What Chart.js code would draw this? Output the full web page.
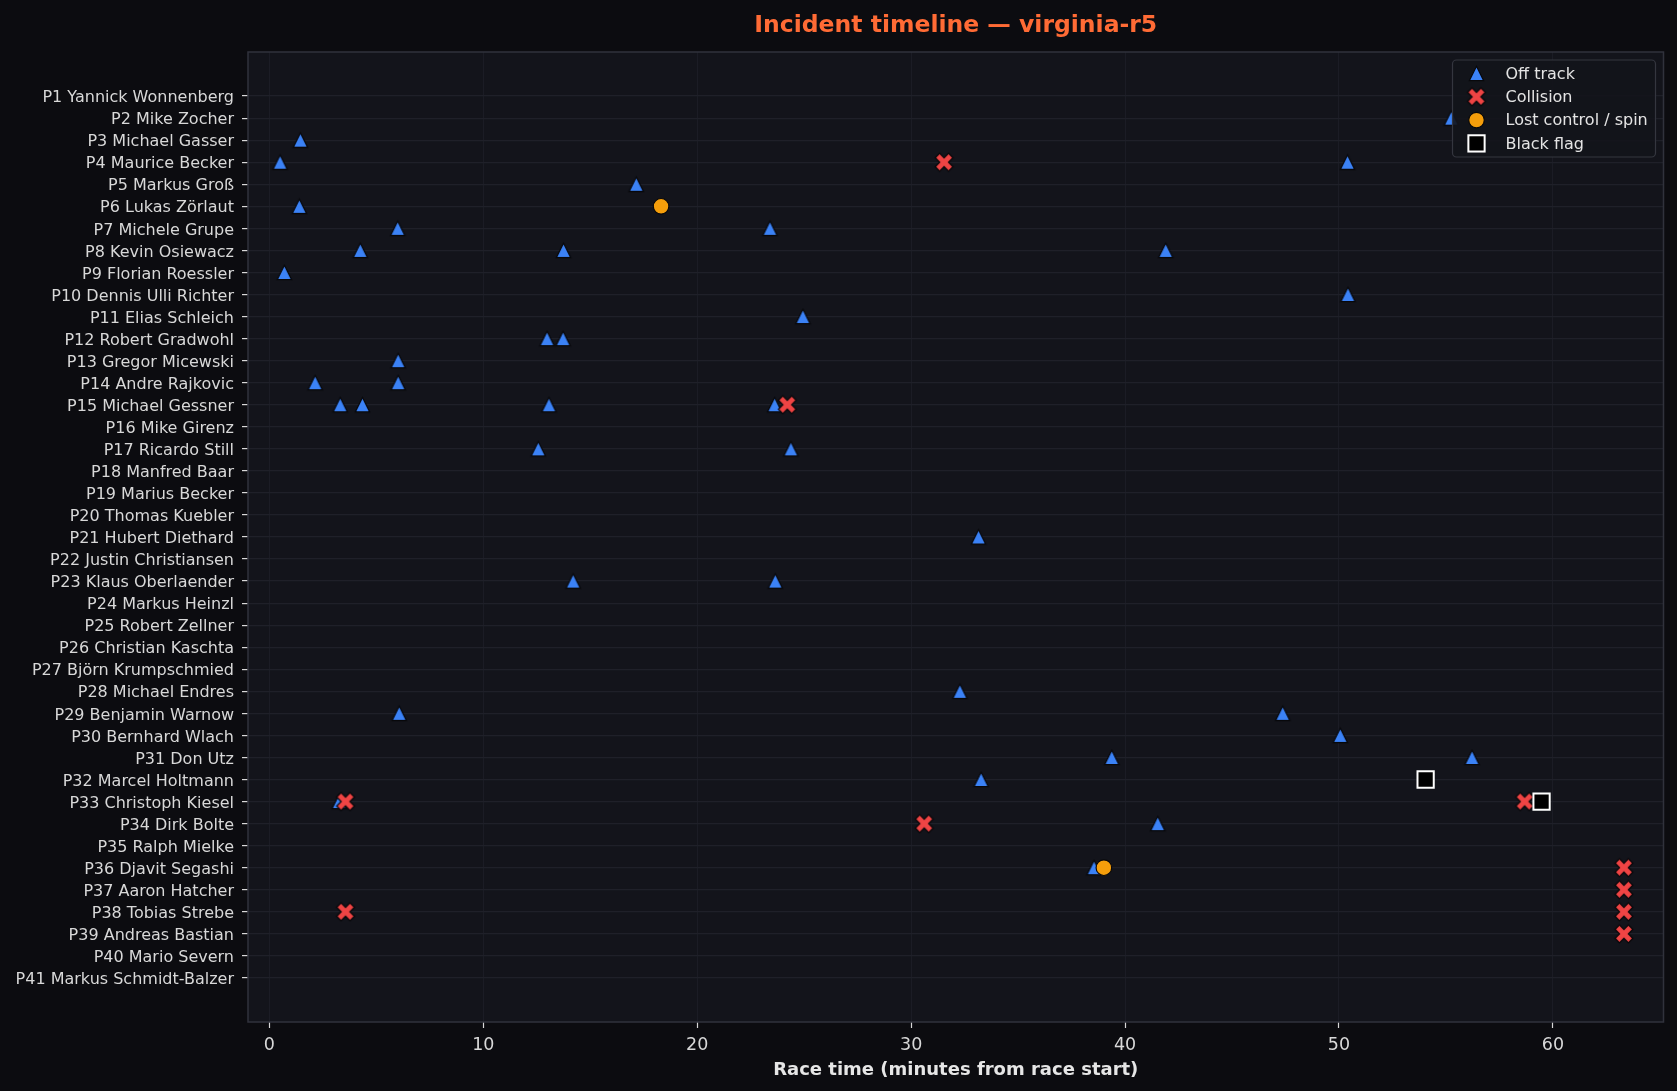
<!DOCTYPE html>
<html>
<head>
<meta charset="utf-8">
<title>Incident timeline</title>
<script src="https://cdn.jsdelivr.net/npm/chart.js@4.4.1/dist/chart.umd.min.js"></script>
<style>
  html, body { margin: 0; padding: 0; background: #0c0c10; }
  #wrap { width: 1677px; height: 1091px; }
</style>
</head>
<body>
<div id="wrap"><canvas id="incidentChart" width="1677" height="1091"></canvas></div>
<script>
// Drivers in finishing order (row labels)
const drivers = [
    'P1 Yannick Wonnenberg', 'P2 Mike Zocher', 'P3 Michael Gasser', 'P4 Maurice Becker',
    'P5 Markus Groß', 'P6 Lukas Zörlaut', 'P7 Michele Grupe', 'P8 Kevin Osiewacz',
    'P9 Florian Roessler', 'P10 Dennis Ulli Richter', 'P11 Elias Schleich', 'P12 Robert Gradwohl',
    'P13 Gregor Micewski', 'P14 Andre Rajkovic', 'P15 Michael Gessner', 'P16 Mike Girenz',
    'P17 Ricardo Still', 'P18 Manfred Baar', 'P19 Marius Becker', 'P20 Thomas Kuebler',
    'P21 Hubert Diethard', 'P22 Justin Christiansen', 'P23 Klaus Oberlaender', 'P24 Markus Heinzl',
    'P25 Robert Zellner', 'P26 Christian Kaschta', 'P27 Björn Krumpschmied', 'P28 Michael Endres',
    'P29 Benjamin Warnow', 'P30 Bernhard Wlach', 'P31 Don Utz', 'P32 Marcel Holtmann',
    'P33 Christoph Kiesel', 'P34 Dirk Bolte', 'P35 Ralph Mielke', 'P36 Djavit Segashi',
    'P37 Aaron Hatcher', 'P38 Tobias Strebe', 'P39 Andreas Bastian', 'P40 Mario Severn',
    'P41 Markus Schmidt-Balzer'
];

// Incidents as [position, minutes from race start]
const offTrack = [
    [2, 55.25], [3, 1.45], [4, 0.5], [4, 50.4], [5, 17.15], [6, 1.4],
    [7, 6.0], [7, 23.4], [8, 4.25], [8, 13.75], [8, 41.9], [9, 0.7],
    [10, 50.42], [11, 24.94], [12, 12.98], [12, 13.73], [13, 6.02],
    [14, 2.14], [14, 6.02], [15, 3.31], [15, 4.35], [15, 13.07], [15, 23.62],
    [17, 12.57], [17, 24.38], [21, 33.15], [23, 14.2], [23, 23.65],
    [28, 32.28], [29, 6.07], [29, 47.37], [30, 50.06], [31, 39.38], [31, 56.22],
    [32, 33.27], [33, 3.26], [34, 41.53], [36, 38.55]
];
const collision = [
    [4, 31.54], [15, 24.21], [33, 3.56], [33, 58.68], [34, 30.61],
    [36, 63.32], [37, 63.32], [38, 3.56], [38, 63.32], [39, 63.32]
];
const spin = [[6, 18.31], [36, 39.01]];
const blackFlag = [[32, 54.05], [33, 59.47]];

const xTicks = [0, 10, 20, 30, 40, 50, 60];

const FONT = "'DejaVu Sans', 'Liberation Sans', sans-serif";
const EDGE = '#08080b';

// matplotlib-like '^' and 'X' markers drawn once on small canvases
function makeTriangle(h, fill) {
    const c = document.createElement('canvas');
    const s = Math.ceil(2 * h + 4);
    c.width = c.height = s;
    const g = c.getContext('2d');
    const m = s / 2;
    g.beginPath();
    g.moveTo(m, m - h);
    g.lineTo(m + h, m + h);
    g.lineTo(m - h, m + h);
    g.closePath();
    g.fillStyle = fill;
    g.fill();
    g.lineWidth = 1.2;
    g.strokeStyle = EDGE;
    g.stroke();
    return c;
}

function makeCross(L, w, fill) {
    const c = document.createElement('canvas');
    const s = 24;
    c.width = c.height = s;
    const g = c.getContext('2d');
    const pts = [[-w, L], [w, L], [w, w], [L, w], [L, -w], [w, -w],
                 [w, -L], [-w, -L], [-w, -w], [-L, -w], [-L, w], [-w, w]];
    const k = Math.SQRT1_2;
    g.beginPath();
    pts.forEach(([u, v], i) => {
        const x = s / 2 + (u - v) * k;
        const y = s / 2 + (u + v) * k;
        if (i === 0) g.moveTo(x, y); else g.lineTo(x, y);
    });
    g.closePath();
    g.fillStyle = fill;
    g.fill();
    g.lineWidth = 1.2;
    g.strokeStyle = EDGE;
    g.stroke();
    return c;
}

const triImg = makeTriangle(7.2, '#3b82f6');
const crossImg = makeCross(9.4, 3.1, '#ef4444');

const toPoints = arr => arr.map(([pos, min]) => ({ x: min, y: pos }));

// plot background + four spines
const plotFrame = {
    id: 'plotFrame',
    beforeDraw(chart) {
        const { ctx, chartArea: a } = chart;
        ctx.save();
        ctx.fillStyle = '#0c0c10';
        ctx.fillRect(0, 0, chart.width, chart.height);
        ctx.fillStyle = '#13141b';
        ctx.fillRect(a.left, a.top, a.right - a.left, a.bottom - a.top);
        ctx.restore();
    },
    beforeDatasetsDraw(chart) {
        const { ctx, chartArea: a } = chart;
        ctx.save();
        ctx.strokeStyle = '#30323c';
        ctx.lineWidth = 1.5;
        ctx.strokeRect(a.left, a.top, a.right - a.left, a.bottom - a.top);
        ctx.restore();
    }
};

// legend box in the upper right of the plot
const legendBox = {
    id: 'legendBox',
    afterDraw(chart) {
        const { ctx, chartArea: a } = chart;
        const boxW = 203, boxH = 97;
        const x0 = a.right - 8 - boxW, y0 = a.top + 8;
        ctx.save();
        ctx.beginPath();
        ctx.roundRect(x0, y0, boxW, boxH, 4);
        ctx.fillStyle = 'rgba(19, 20, 27, 0.9)';
        ctx.fill();
        ctx.lineWidth = 1.2;
        ctx.strokeStyle = '#34363f';
        ctx.stroke();

        ctx.font = `16px ${FONT}`;
        ctx.textBaseline = 'middle';
        ctx.textAlign = 'left';
        chart.data.datasets.forEach((ds, i) => {
            const cx = x0 + 24, cy = y0 + 13.5 + i * 23.3;
            const st = ds.pointStyle;
            if (typeof st === 'object') {
                ctx.drawImage(st, cx - st.width / 2, cy - st.height / 2);
            } else if (st === 'circle') {
                ctx.beginPath();
                ctx.arc(cx, cy, ds.pointRadius, 0, Math.PI * 2);
                ctx.fillStyle = ds.pointBackgroundColor;
                ctx.fill();
                ctx.lineWidth = ds.pointBorderWidth;
                ctx.strokeStyle = ds.pointBorderColor;
                ctx.stroke();
            } else {
                const h = ds.pointRadius * Math.SQRT1_2;
                ctx.fillStyle = ds.pointBackgroundColor;
                ctx.fillRect(cx - h, cy - h, 2 * h, 2 * h);
                ctx.lineWidth = ds.pointBorderWidth;
                ctx.strokeStyle = ds.pointBorderColor;
                ctx.strokeRect(cx - h, cy - h, 2 * h, 2 * h);
            }
            ctx.fillStyle = '#e4e4e4';
            ctx.fillText(ds.label, x0 + 53, cy + 1);
        });
        ctx.restore();
    }
};

const ctx = document.getElementById('incidentChart').getContext('2d');
new Chart(ctx, {
    type: 'scatter',
    data: {
        datasets: [
            {
                label: 'Off track', data: toPoints(offTrack), order: 4,
                pointStyle: triImg, pointRadius: 8
            },
            {
                label: 'Collision', data: toPoints(collision), order: 3,
                pointStyle: crossImg, pointRadius: 9
            },
            {
                label: 'Lost control / spin', data: toPoints(spin), order: 2,
                pointStyle: 'circle', pointRadius: 7.8,
                pointBackgroundColor: '#f59e0b', pointBorderColor: EDGE, pointBorderWidth: 1.2
            },
            {
                label: 'Black flag', data: toPoints(blackFlag), order: 1,
                pointStyle: 'rect', pointRadius: 11.5,
                pointBackgroundColor: '#000000', pointBorderColor: '#ffffff', pointBorderWidth: 2
            }
        ]
    },
    options: {
        responsive: false,
        animation: false,
        devicePixelRatio: 1,
        layout: { padding: { left: 0, right: 13, top: 0, bottom: 0 } },
        plugins: {
            legend: { display: false },
            tooltip: { enabled: false },
            title: {
                display: true,
                fullSize: false,
                text: 'Incident timeline — virginia-r5',
                color: '#ff6b35',
                font: { family: FONT, size: 23.5, weight: 'bold', lineHeight: 1.2 },
                padding: { top: 11.5, bottom: 12.3 }
            }
        },
        scales: {
            x: {
                type: 'linear',
                min: -1,
                max: 65.17,
                afterBuildTicks: s => { s.ticks = xTicks.map(v => ({ value: v })); },
                afterFit: s => { s.height = 69; },
                ticks: {
                    color: '#d8d8d8',
                    font: { family: FONT, size: 17.5 },
                    padding: 7,
                    maxRotation: 0
                },
                grid: {
                    color: '#1b1c25', lineWidth: 1,
                    tickColor: '#d8d8d8', tickLength: 6, tickWidth: 1.2
                },
                border: { display: false },
                title: {
                    display: true,
                    text: 'Race time (minutes from race start)',
                    color: '#e6e6e6',
                    font: { family: FONT, size: 18, weight: 'bold', lineHeight: 1.2 },
                    padding: { top: 0, bottom: 10 }
                }
            },
            y: {
                type: 'linear',
                reverse: true,
                min: -1,
                max: 43,
                afterBuildTicks: s => { s.ticks = drivers.map((d, i) => ({ value: i + 1 })); },
                afterFit: s => { s.width = 248; },
                ticks: {
                    color: '#d8d8d8',
                    font: { family: FONT, size: 16 },
                    padding: 8,
                    labelOffset: 2,
                    callback: v => drivers[v - 1]
                },
                grid: {
                    color: '#1f2029', lineWidth: 1.2,
                    tickColor: '#d8d8d8', tickLength: 6, tickWidth: 1.2
                },
                border: { display: false }
            }
        }
    },
    plugins: [plotFrame, legendBox]
});
</script>
</body>
</html>
